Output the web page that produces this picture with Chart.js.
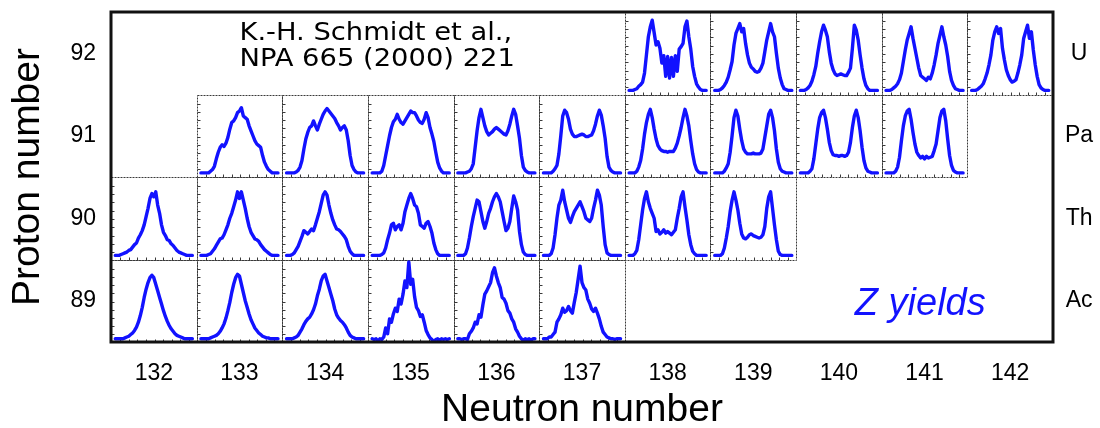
<!DOCTYPE html>
<html>
<head>
<meta charset="utf-8">
<title>Z yields</title>
<script src="https://cdn.jsdelivr.net/npm/chart.js@4.4.1/dist/chart.umd.min.js"></script>
<style>
  html, body { margin: 0; padding: 0; background: #fff; }
  #chart { display: block; }
</style>
</head>
<body>
<canvas id="chart" width="1100" height="428"></canvas>
<script>
const neutronNumbers = [132, 133, 134, 135, 136, 137, 138, 139, 140, 141, 142];
const protonNumbers = [89, 90, 91, 92];
const elementSymbols = ["Ac", "Th", "Pa", "U"];

// fragment charge yields, relative height in each cell (0..100), light to heavy fragment
const u230 = [5,5,5,6,7,10,12,15,26,48,70,82,90,75,60,64,56,38,47,22,46,20,45,22,47,28,55,58,62,82,89,70,55,34,22,13,9,6,5,5,5];
const u231 = [5,5,5,6,8,11,15,21,30,40,60,74,80,86,76,80,62,48,38,33,31,28,27,28,32,38,52,66,76,86,76,70,50,32,20,12,7,6,5,5,5];
const u232 = [5,5,5,6,8,11,16,24,34,50,64,76,84,78,70,52,38,30,25,23,24,25,24,23,23,27,32,56,84,78,66,48,32,19,11,7,5,5,5,5,5];
const u233 = [5,5,5,6,8,10,13,18,26,40,54,66,74,82,68,56,44,32,23,21,19,17,21,19,26,36,48,62,72,82,70,60,46,28,17,11,7,6,5,5,5];
const u234 = [5,5,5,6,8,10,13,19,26,36,48,66,76,82,74,80,56,42,30,23,18,15,16,18,26,36,48,68,76,84,68,76,54,36,22,12,8,6,5,5,5];

const pa224 = [5,5,5,5,5,7,9,13,22,30,36,39,37,41,48,58,66,68,72,78,80,84,74,72,70,62,56,50,44,40,38,36,26,18,13,9,7,5,5,5,5];
const pa225 = [5,5,5,5,5,6,8,12,20,34,46,54,60,62,68,62,57,64,70,76,80,83,80,77,74,71,66,62,57,60,62,57,44,26,14,9,6,5,5,5,5];
const pa226 = [5,5,5,5,5,7,14,26,38,50,60,67,70,76,70,66,64,68,72,76,80,78,78,74,69,66,65,70,78,72,60,52,43,30,18,11,7,5,5,5,5];
const pa227 = [5,5,5,5,5,6,7,10,16,36,56,72,82,72,62,55,51,53,55,58,60,58,56,54,52,51,56,64,74,82,76,62,47,26,12,8,6,5,5,5,5];
const pa228 = [5,5,5,5,5,7,10,14,28,50,74,81,78,70,58,52,49,49,50,51,52,51,49,49,50,51,56,64,74,81,75,62,47,25,12,8,6,5,5,5,5];
const pa229 = [5,5,5,5,7,12,20,34,52,66,76,82,72,58,46,38,34,32,31,31,30,31,31,31,35,41,50,60,72,82,74,62,44,28,16,9,6,5,5,5,5];
const pa230 = [5,5,5,5,5,7,11,16,30,50,72,81,74,58,44,34,30,28,28,28,29,28,28,28,29,34,48,62,76,81,72,56,34,18,10,7,6,5,5,5,5];
const pa231 = [5,5,5,5,5,7,10,22,40,58,72,78,81,72,58,42,32,27,26,26,25,26,26,25,26,30,42,60,74,81,72,56,36,20,11,7,6,5,5,5,5];
const pa232 = [5,5,5,5,5,7,12,24,44,62,74,80,82,70,54,40,30,26,23,25,22,25,23,24,25,32,40,56,72,80,82,68,46,26,14,8,6,5,5,5,5];

const th222 = [5,5,5,6,7,8,9,11,12,15,18,20,26,30,35,42,52,62,74,80,76,82,66,56,42,33,29,24,23,19,17,14,11,9,8,7,6,5,5,5,5];
const th223 = [5,5,5,5,6,7,10,13,17,21,25,26,30,36,42,50,56,64,72,82,74,82,72,62,50,40,33,29,25,24,22,18,15,12,10,8,6,5,5,5,5];
const th224 = [5,5,5,6,8,12,16,22,28,35,33,31,34,37,35,42,50,58,68,78,82,78,66,56,48,42,37,36,34,31,28,24,16,10,7,5,5,5,5,5,5];
const th225 = [5,5,5,5,5,6,8,14,24,32,42,44,36,40,42,36,44,58,66,74,80,74,66,64,56,42,40,38,44,46,40,32,20,12,7,5,5,5,5,5,5];
const th226 = [5,5,5,5,7,14,26,40,52,62,72,70,58,46,38,46,56,62,70,76,80,76,70,58,46,35,38,46,62,77,70,60,34,18,9,6,5,5,5,5,5];
const th227 = [5,5,5,5,7,14,30,50,66,72,84,70,60,50,45,52,58,62,66,70,64,58,50,48,46,50,62,72,84,78,66,40,18,8,6,5,5,5,5,5,5];
const th228 = [5,5,5,7,11,24,42,60,74,82,70,62,56,50,34,36,31,33,36,32,34,32,30,33,36,50,62,76,82,64,48,30,18,10,7,5,5,5,5,5,5];
const th229 = [5,5,5,5,7,14,26,40,58,72,82,72,60,44,31,26,25,27,30,31,29,28,27,26,27,30,40,62,76,82,62,42,24,10,6,5,5,5,5,5,5];

const ac221 = [4,4,4,4,4,5,6,7,9,11,14,18,24,32,42,54,64,72,78,81,78,70,62,54,46,38,31,25,20,16,13,10,8,7,6,5,4,4,4,4,4];
const ac222 = [4,4,4,4,4,5,6,7,8,10,13,17,22,29,38,48,60,70,78,82,80,70,60,50,42,34,27,22,17,14,11,9,7,6,5,5,4,4,4,4,4];
const ac223 = [4,4,4,4,5,6,8,12,16,21,25,28,30,34,39,46,56,64,74,80,82,74,66,58,50,40,33,29,26,24,21,17,12,8,6,5,4,4,4,4,4];
const ac224 = [4,3,4,1,4,3,6,17,10,28,24,34,41,37,52,46,58,74,66,97,70,76,55,42,38,31,33,24,14,9,5,3,0,3,4,2,4,3,4,3,4];
const ac225 = [4,4,3,4,4,3,10,13,17,24,22,33,30,45,58,62,67,72,84,90,80,72,66,54,52,47,38,35,28,24,16,12,7,4,2,4,3,4,2,4,4];
const ac226 = [4,4,4,6,6,9,12,24,28,33,41,36,38,43,38,35,48,60,76,92,72,66,63,52,47,40,37,41,35,28,19,12,9,6,5,4,4,3,4,4,4];

const nuclei = [
  { z: 92, n: 138, yields: u230 }, { z: 92, n: 139, yields: u231 }, { z: 92, n: 140, yields: u232 },
  { z: 92, n: 141, yields: u233 }, { z: 92, n: 142, yields: u234 },
  { z: 91, n: 133, yields: pa224 }, { z: 91, n: 134, yields: pa225 }, { z: 91, n: 135, yields: pa226 },
  { z: 91, n: 136, yields: pa227 }, { z: 91, n: 137, yields: pa228 }, { z: 91, n: 138, yields: pa229 },
  { z: 91, n: 139, yields: pa230 }, { z: 91, n: 140, yields: pa231 }, { z: 91, n: 141, yields: pa232 },
  { z: 90, n: 132, yields: th222 }, { z: 90, n: 133, yields: th223 }, { z: 90, n: 134, yields: th224 },
  { z: 90, n: 135, yields: th225 }, { z: 90, n: 136, yields: th226 }, { z: 90, n: 137, yields: th227 },
  { z: 90, n: 138, yields: th228 }, { z: 90, n: 139, yields: th229 },
  { z: 89, n: 132, yields: ac221 }, { z: 89, n: 133, yields: ac222 }, { z: 89, n: 134, yields: ac223 },
  { z: 89, n: 135, yields: ac224 }, { z: 89, n: 136, yields: ac225 }, { z: 89, n: 137, yields: ac226 },
];

const labelFont = "'Liberation Sans', Arial, sans-serif";

// each nucleus gets its own cell: N-0.5..N+0.5, Z-0.5..Z+0.5
const datasets = nuclei.map(nu => ({
  label: elementSymbols[protonNumbers.indexOf(nu.z)] + "-" + (nu.z + nu.n),
  data: nu.yields.map((v, i) => ({
    x: nu.n - 0.45 + 0.9 * i / (nu.yields.length - 1),
    y: nu.z - 0.5 + v / 100,
  })),
  borderColor: "#1212ff",
  borderWidth: 3.4,
  borderJoinStyle: "round",
  borderCapStyle: "round",
  pointRadius: 0,
  tension: 0,
  fill: false,
}));

// no extra room for half tick labels: the frame sits at fixed distances from the edges
function noLabelPadding(axis) {
  axis.paddingTop = 0;
  axis.paddingBottom = 0;
  axis.paddingLeft = 0;
  axis.paddingRight = 0;
}

const cellFrames = {
  id: "cellFrames",
  beforeDatasetsDraw(chart) {
    const { ctx, scales: { x, y } } = chart;
    ctx.save();
    ctx.strokeStyle = "#3a3a3a";
    ctx.lineWidth = 1;
    nuclei.forEach(nu => {
      const l = Math.round(x.getPixelForValue(nu.n - 0.5)) + 0.5;
      const r = Math.round(x.getPixelForValue(nu.n + 0.5)) + 0.5;
      const t = Math.round(y.getPixelForValue(nu.z + 0.5)) + 0.5;
      const b = Math.round(y.getPixelForValue(nu.z - 0.5)) + 0.5;
      ctx.setLineDash([2, 1]);
      ctx.strokeRect(l, t, r - l, b - t);
      ctx.setLineDash([]);
      ctx.beginPath();
      for (let k = 1; k < 10; k++) {
        const ty = Math.round(t + (b - t) * k / 10) + 0.5;
        ctx.moveTo(l, ty); ctx.lineTo(l + 3, ty);
        const tx = Math.round(l + (r - l) * k / 10) + 0.5;
        ctx.moveTo(tx, b); ctx.lineTo(tx, b - 3);
      }
      ctx.stroke();
    });
    ctx.restore();
  },
  afterDatasetsDraw(chart) {
    const { ctx, chartArea: a, scales: { x, y } } = chart;
    ctx.save();
    ctx.strokeStyle = "#111";
    ctx.lineWidth = 3;
    ctx.strokeRect(a.left, a.top, a.right - a.left, a.bottom - a.top);

    // reference note in the empty upper-left corner
    ctx.fillStyle = "#000";
    ctx.font = "24px 'DejaVu Sans', sans-serif";
    ctx.textBaseline = "alphabetic";
    ctx.textAlign = "left";
    const nx = x.getPixelForValue(133);
    [["K.-H. Schmidt et al.,", 92.16], ["NPA 665 (2000) 221", 91.84]].forEach(([txt, v]) => {
      ctx.save();
      ctx.translate(nx, y.getPixelForValue(v));
      ctx.scale(1.14, 1);
      ctx.fillText(txt, 0, 0);
      ctx.restore();
    });

    ctx.fillStyle = "#1212ff";
    ctx.font = "italic 38px " + labelFont;
    ctx.textAlign = "center";
    ctx.fillText("Z yields", x.getPixelForValue(140.95), y.getPixelForValue(88.83));
    ctx.restore();
  },
};

new Chart(document.getElementById("chart"), {
  type: "line",
  data: { datasets },
  options: {
    responsive: false,
    animation: false,
    devicePixelRatio: 1,
    layout: { padding: { top: 12, left: 0, right: 0, bottom: 0 } },
    plugins: { legend: { display: false }, tooltip: { enabled: false } },
    scales: {
      x: {
        type: "linear",
        position: "bottom",
        min: 131.5,
        max: 142.5,
        grid: { display: false, drawTicks: false },
        border: { display: false },
        afterBuildTicks: axis => { axis.ticks = neutronNumbers.map(v => ({ value: v })); },
        afterFit: axis => { axis.height = 86; noLabelPadding(axis); },
        ticks: { color: "#000", font: { family: labelFont, size: 23 }, padding: 18, maxRotation: 0, autoSkip: false },
        title: {
          display: true, text: "Neutron number", color: "#000",
          font: { family: labelFont, size: 39, lineHeight: 0.9 }, padding: 0,
        },
      },
      y: {
        type: "linear",
        position: "left",
        min: 88.5,
        max: 92.5,
        grid: { display: false, drawTicks: false },
        border: { display: false },
        afterBuildTicks: axis => { axis.ticks = protonNumbers.map(v => ({ value: v })); },
        afterFit: axis => { axis.width = 111; noLabelPadding(axis); },
        ticks: { color: "#000", font: { family: labelFont, size: 23 }, padding: 15, autoSkip: false },
        title: {
          display: true, text: "Proton number", color: "#000",
          font: { family: labelFont, size: 39, lineHeight: 1 }, padding: { top: 8.5, bottom: 0 },
        },
      },
      y2: {
        type: "linear",
        position: "right",
        min: 88.5,
        max: 92.5,
        grid: { display: false, drawTicks: true, tickLength: 12 },
        border: { display: false },
        afterBuildTicks: axis => { axis.ticks = protonNumbers.map(v => ({ value: v })); },
        afterFit: axis => { axis.width = 47; noLabelPadding(axis); },
        ticks: {
          color: "#000", font: { family: labelFont, size: 23 }, padding: 0, autoSkip: false,
          crossAlign: "center",
          callback: v => elementSymbols[protonNumbers.indexOf(v)],
        },
      },
    },
  },
  plugins: [cellFrames],
});
</script>
</body>
</html>
